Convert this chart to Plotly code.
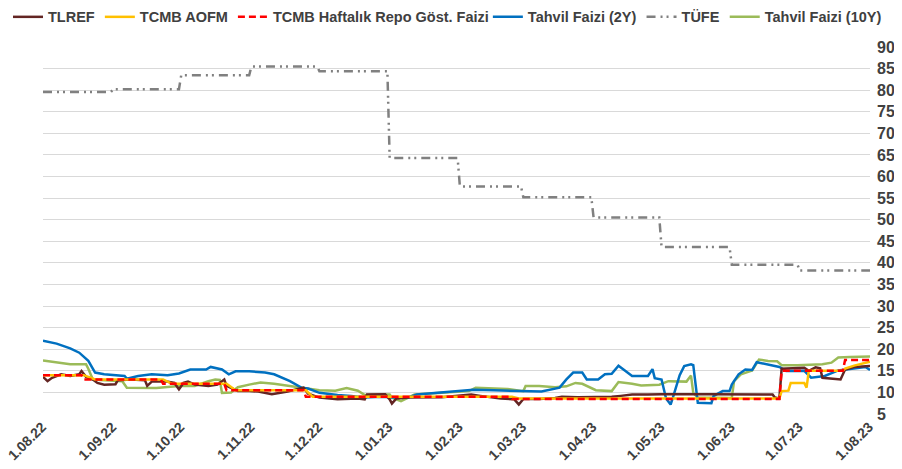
import plotly.graph_objects as go

# ---------------- data (date, value) ----------------
tlref = [("2022-08-01",13.6),("2022-08-03",12.6),("2022-08-05",13.4),("2022-08-09",14.2),("2022-08-13",13.8),
         ("2022-08-17",14.2),("2022-08-18",14.95),("2022-08-20",13.6),("2022-08-23",13.0),("2022-08-25",12.2),
         ("2022-08-28",11.8),("2022-09-02",11.9),("2022-09-03",12.8),("2022-09-09",13.0),("2022-09-15",12.8),
         ("2022-09-16",11.5),("2022-09-18",12.5),("2022-09-24",12.6),("2022-09-28",12.2),("2022-09-30",10.7),
         ("2022-10-02",12.2),("2022-10-04",12.5),("2022-10-07",11.8),("2022-10-13",11.5),("2022-10-17",11.8),
         ("2022-10-20",13.0),("2022-10-21",11.5),("2022-10-26",10.3),("2022-10-31",10.3),("2022-11-04",10.2),
         ("2022-11-10",9.6),("2022-11-17",10.2),("2022-11-24",11.1),("2022-11-26",9.7),("2022-12-01",8.8),
         ("2022-12-09",8.4),("2022-12-18",8.6),("2022-12-21",8.4),("2022-12-22",9.5),("2022-12-30",9.6),
         ("2023-01-01",8.4),("2023-01-02",7.4),("2023-01-04",8.6),("2023-01-09",8.8),("2023-01-24",8.9),
         ("2023-01-31",9.2),("2023-02-06",9.5),("2023-02-10",9.2),("2023-02-19",8.6),("2023-02-25",8.4),
         ("2023-02-27",7.2),("2023-03-01",8.5),("2023-03-08",8.5),("2023-03-15",8.7),("2023-03-18",9.0),
         ("2023-03-25",8.9),("2023-04-03",8.9),("2023-04-09",9.0),("2023-04-13",9.2),("2023-04-18",9.5),
         ("2023-04-25",9.5),("2023-05-01",9.6),("2023-05-22",9.6),("2023-06-19",9.5),("2023-06-20",8.8),
         ("2023-06-22",8.6),("2023-06-23",15.5),("2023-07-03",15.7),("2023-07-05",15.0),("2023-07-08",15.8),
         ("2023-07-10",15.6),("2023-07-11",13.4),("2023-07-19",13.0),("2023-07-21",15.3),("2023-07-25",15.9),
         ("2023-08-01",16.1)]

aofm = [("2022-08-01",14.0),("2022-08-19",14.0),("2022-08-24",13.0),("2022-09-23",13.0),("2022-09-27",12.0),
        ("2022-10-21",12.0),("2022-10-25",10.5),("2022-11-25",10.5),("2022-11-28",9.0),("2023-02-24",9.0),
        ("2023-02-27",8.6),("2023-06-22",8.6),("2023-06-23",10.3),("2023-06-26",10.4),("2023-06-27",12.2),
        ("2023-07-03",12.2),("2023-07-04",11.1),("2023-07-05",15.0),("2023-07-20",15.0),("2023-07-21",15.5),
        ("2023-07-25",16.2),("2023-08-01",17.1)]

repo = [("2022-08-01",14.0),("2022-08-18",14.0),("2022-08-19",13.0),("2022-09-22",13.0),("2022-09-23",12.0),
        ("2022-10-20",12.0),("2022-10-21",10.5),("2022-11-24",10.5),("2022-11-25",9.0),("2023-02-23",9.0),
        ("2023-02-24",8.5),("2023-06-22",8.5),("2023-06-23",15.0),("2023-07-20",15.0),("2023-07-21",17.5),
        ("2023-08-01",17.5)]

bond_2y = [("2022-08-01",22.0),("2022-08-07",21.3),("2022-08-13",20.2),("2022-08-17",19.2),("2022-08-21",17.3),
           ("2022-08-24",14.6),("2022-08-28",14.2),("2022-09-06",13.8),("2022-09-07",13.2),("2022-09-12",13.8),
           ("2022-09-18",14.2),("2022-09-25",14.0),("2022-09-30",14.4),("2022-10-05",15.3),("2022-10-12",15.3),
           ("2022-10-14",15.9),("2022-10-19",15.3),("2022-10-22",14.2),("2022-10-25",14.9),("2022-10-31",14.9),
           ("2022-11-07",14.6),("2022-11-11",14.2),("2022-11-18",12.6),("2022-11-23",11.1),("2022-11-26",10.9),
           ("2022-12-01",9.9),("2022-12-09",9.4),("2022-12-15",9.2),("2022-12-21",8.8),("2022-12-28",9.0),
           ("2023-01-03",8.8),("2023-01-09",8.8),("2023-01-13",9.5),("2023-01-21",9.9),("2023-01-31",10.3),
           ("2023-02-07",10.6),("2023-02-16",10.5),("2023-02-22",10.4),("2023-03-02",10.2),("2023-03-09",10.2),
           ("2023-03-17",11.1),("2023-03-20",13.0),("2023-03-23",14.6),("2023-03-27",14.6),("2023-03-29",13.0),
           ("2023-04-03",13.0),("2023-04-06",14.2),("2023-04-09",14.3),("2023-04-12",16.2),("2023-04-15",14.9),
           ("2023-04-18",13.8),("2023-04-25",13.8),("2023-04-27",15.4),("2023-04-28",13.3),("2023-05-01",13.0),
           ("2023-05-03",8.6),("2023-05-05",7.2),("2023-05-06",8.8),("2023-05-09",14.0),("2023-05-11",16.1),
           ("2023-05-14",16.5),("2023-05-15",16.3),("2023-05-17",7.6),("2023-05-23",7.5),("2023-05-24",9.2),
           ("2023-05-28",10.3),("2023-05-31",10.3),("2023-06-01",11.8),("2023-06-04",14.2),("2023-06-07",15.3),
           ("2023-06-10",15.2),("2023-06-12",17.0),("2023-06-17",16.5),("2023-06-22",15.9),("2023-06-25",14.95),
           ("2023-07-03",15.0),("2023-07-06",13.4),("2023-07-12",13.8),("2023-07-18",15.1),("2023-07-23",15.5),
           ("2023-07-30",15.9),("2023-08-01",15.2)]

tufe = [("2022-08-01",79.6),("2022-08-31",79.6),("2022-09-01",80.21),("2022-09-30",80.21),("2022-10-01",83.45),
        ("2022-10-31",83.45),("2022-11-01",85.51),("2022-11-30",85.51),("2022-12-01",84.39),("2022-12-31",84.39),
        ("2023-01-01",64.27),("2023-01-31",64.27),("2023-02-01",57.68),("2023-02-28",57.68),("2023-03-01",55.18),
        ("2023-03-31",55.18),("2023-04-01",50.51),("2023-04-30",50.51),("2023-05-01",43.68),("2023-05-31",43.68),
        ("2023-06-01",39.59),("2023-06-30",39.59),("2023-07-01",38.21),("2023-08-01",38.21)]

bond_10y = [("2022-08-01",17.4),("2022-08-07",16.9),("2022-08-13",16.5),("2022-08-20",16.5),("2022-08-21",15.5),
            ("2022-08-23",13.0),("2022-08-28",12.8),("2022-09-05",12.6),("2022-09-07",11.1),("2022-09-12",11.0),
            ("2022-09-20",11.0),("2022-09-30",11.5),("2022-10-07",11.5),("2022-10-13",12.6),("2022-10-16",13.0),
            ("2022-10-18",12.9),("2022-10-19",9.9),("2022-10-23",10.0),("2022-10-26",11.2),("2022-10-31",11.8),
            ("2022-11-05",12.3),("2022-11-11",12.0),("2022-11-17",11.5),("2022-11-24",11.0),("2022-12-01",10.5),
            ("2022-12-08",10.4),("2022-12-13",11.0),("2022-12-18",10.4),("2022-12-21",9.4),("2022-12-27",9.5),
            ("2023-01-01",9.5),("2023-01-02",8.8),("2023-01-06",8.0),("2023-01-12",9.5),("2023-01-24",9.9),
            ("2023-02-05",10.3),("2023-02-08",11.1),("2023-02-15",11.0),("2023-02-22",10.8),("2023-03-01",10.3),
            ("2023-03-02",11.5),("2023-03-08",11.5),("2023-03-15",11.2),("2023-03-20",11.4),("2023-03-24",12.2),
            ("2023-03-27",12.0),("2023-04-02",10.5),("2023-04-09",10.3),("2023-04-12",12.4),("2023-04-18",12.0),
            ("2023-04-22",11.6),("2023-04-30",11.8),("2023-05-04",12.6),("2023-05-12",12.5),("2023-05-14",13.9),
            ("2023-05-15",9.9),("2023-05-17",8.8),("2023-06-01",8.7),("2023-06-02",12.6),("2023-06-05",14.2),
            ("2023-06-10",15.1),("2023-06-13",17.6),("2023-06-17",17.3),("2023-06-21",17.2),("2023-06-23",16.3),
            ("2023-06-30",16.3),("2023-07-05",16.4),("2023-07-11",16.5),("2023-07-15",16.9),("2023-07-18",18.1),
            ("2023-07-23",18.2),("2023-08-01",18.3)]

tick_dates = ["2022-08-01","2022-09-01","2022-10-01","2022-11-01","2022-12-01","2023-01-01","2023-02-01",
              "2023-03-01","2023-04-01","2023-05-01","2023-06-01","2023-07-01","2023-08-01"]
tick_labels = ["1.08.22","1.09.22","1.10.22","1.11.22","1.12.22","1.01.23","1.02.23",
               "1.03.23","1.04.23","1.05.23","1.06.23","1.07.23","1.08.23"]

FONT = "Liberation Sans, Arial, sans-serif"
TXT = "#404040"

def xy(series):
    return [d for d, _ in series], [v for _, v in series]

fig = go.Figure()

# drawing order (bottom -> top); legend order set by legendrank; split over two legends
specs = [
    ("TÜFE", tufe, dict(color="#808080", width=2.5, dash="9px,5px,2px,4px,2px,5px"), 5, "legend2"),
    ("Tahvil Faizi (10Y)", bond_10y, dict(color="#9BBB59", width=2.5), 6, "legend2"),
    ("Tahvil Faizi (2Y)", bond_2y, dict(color="#0070C0", width=2.5), 4, "legend2"),
    ("TLREF", tlref, dict(color="#632523", width=2.5), 1, "legend"),
    ("TCMB AOFM", aofm, dict(color="#FFC000", width=2.5), 2, "legend"),
    ("TCMB Haftalık Repo Göst. Faizi", repo, dict(color="#FF0000", width=2.5, dash="7px,4px"), 3, "legend"),
]
for name, s, line, rank, lg in specs:
    x, y = xy(s)
    fig.add_trace(go.Scatter(x=x, y=y, mode="lines", name=name, line=line, legendrank=rank, legend=lg))

legend_common = dict(orientation="h", xref="container", yref="container", y=0.981,
                     xanchor="left", yanchor="middle",
                     font=dict(family=FONT, size=14.5, color=TXT, weight="bold"),
                     itemwidth=30, bgcolor="rgba(0,0,0,0)")

fig.update_layout(
    width=902, height=469,
    margin=dict(l=35, r=40, t=39, b=63, autoexpand=False),
    paper_bgcolor="white", plot_bgcolor="white",
    font=dict(family=FONT, color=TXT, size=14),
    showlegend=True,
    legend=dict(legend_common, x=0.0),
    legend2=dict(legend_common, x=0.532),
    xaxis=dict(type="date", range=["2022-08-01", "2023-08-01"], tickvals=tick_dates, ticktext=tick_labels,
               tickangle=-45, showgrid=False, zeroline=False, showline=False, ticks="",
               ticklabeloverflow="allow", ticklabelshift=-1, ticklabelstandoff=1,
               tickfont=dict(family=FONT, size=14, color=TXT, weight="bold"), automargin=False),
    yaxis=dict(side="right", range=[5, 90], dtick=5, tick0=5, showgrid=True, gridcolor="#D9D9D9", gridwidth=1,
               zeroline=False, showline=False, ticks="", ticklabelstandoff=6, ticklabeloverflow="allow",
               tickfont=dict(family=FONT, size=16, color=TXT, weight="bold"), automargin=False),
)

fig.write_html("out.html")
